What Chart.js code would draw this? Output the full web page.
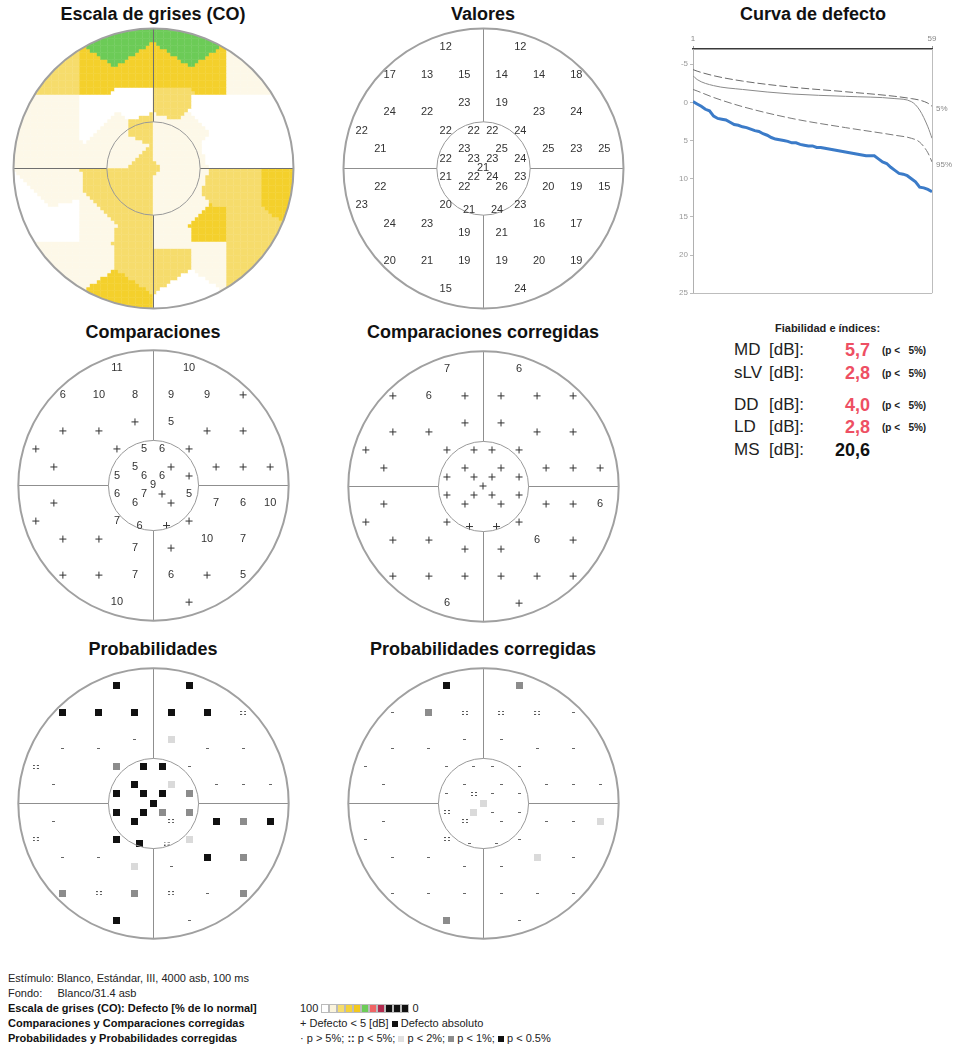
<!DOCTYPE html>
<html>
<head>
<meta charset="utf-8">
<title>Perimetría - Octopus G</title>
<script src="https://cdn.jsdelivr.net/npm/chart.js@4.4.1/dist/chart.umd.min.js"></script>
<style>
  body { margin: 0; background: #fff; font-family: "Liberation Sans", Arial, sans-serif; color: #1a1a1a; }
  #page { position: relative; width: 954px; height: 1047px; overflow: hidden; background: #fff; }
  #page canvas { position: absolute; }
  .ttl { position: absolute; transform: translateX(-50%); font-size: 18px; font-weight: bold; white-space: nowrap; line-height: 20px; color: #111; }
  .idx { position: absolute; white-space: nowrap; line-height: 20px; font-size: 17px; color: #222; }
  .val { font-size: 18px; font-weight: bold; text-align: right; }
  .pp { font-size: 10px; font-weight: bold; color: #222; }
  .foot { position: absolute; font-size: 11px; line-height: 13px; white-space: nowrap; color: #222; }
  .b { font-weight: bold; color: #111; }
  .sw { display: inline-block; width: 6px; height: 7px; border: 1px solid #bbb; margin-right: 0px; vertical-align: -1px; }
  .sq { display: inline-block; width: 6px; height: 6px; vertical-align: 0px; }
</style>
</head>
<body>
<div id="page">
  <div class="ttl" style="left:153px;top:4px">Escala de grises (CO)</div>
  <div class="ttl" style="left:483px;top:4px">Valores</div>
  <div class="ttl" style="left:813px;top:4px">Curva de defecto</div>
  <div class="ttl" style="left:153px;top:322px">Comparaciones</div>
  <div class="ttl" style="left:483px;top:322px">Comparaciones corregidas</div>
  <div class="ttl" style="left:153px;top:639px">Probabilidades</div>
  <div class="ttl" style="left:483px;top:639px">Probabilidades corregidas</div>

  <canvas id="mapa" width="290" height="290" style="left:8px;top:23px"></canvas>
  <canvas id="valores" width="290" height="290" style="left:338px;top:23px"></canvas>
  <canvas id="curva" width="289" height="270" style="left:665px;top:30px"></canvas>
  <canvas id="comp" width="290" height="290" style="left:8px;top:340px"></canvas>
  <canvas id="compC" width="290" height="290" style="left:338px;top:341px"></canvas>
  <canvas id="prob" width="290" height="290" style="left:8px;top:658px"></canvas>
  <canvas id="probC" width="290" height="290" style="left:338px;top:658px"></canvas>

  <div class="idx" style="left:775px;top:320px;font-size:11px;font-weight:bold;line-height:16px">Fiabilidad e índices:</div>
  <div id="indices"></div>

  <div class="foot" style="left:8px;top:972px">Estímulo: Blanco, Estándar, III, 4000 asb, 100 ms</div>
  <div class="foot" style="left:8px;top:987px">Fondo:&nbsp;&nbsp;&nbsp;&nbsp;&nbsp;Blanco/31.4 asb</div>
  <div class="foot b" style="left:8px;top:1002px">Escala de grises (CO): Defecto [% de lo normal]</div>
  <div class="foot b" style="left:8px;top:1017px">Comparaciones y Comparaciones corregidas</div>
  <div class="foot b" style="left:8px;top:1032px">Probabilidades y Probabilidades corregidas</div>
  <div class="foot" id="escala" style="left:300px;top:1002px"></div>
  <div class="foot" style="left:300px;top:1017px">+ Defecto &lt; 5 [dB] <span class="sq" style="background:#111"></span> Defecto absoluto</div>
  <div class="foot" style="left:300px;top:1032px">· p &gt; 5%; <b>::</b> p &lt; 5%; <span class="sq" style="background:#e0e0e0"></span> p &lt; 2%; <span class="sq" style="background:#8c8c8c"></span> p &lt; 1%; <span class="sq" style="background:#111"></span> p &lt; 0.5%</div>
</div>

<script>
// posiciones de los puntos del programa G (grados)
var ptX = [-8, 8,
  -20, -12, -4, 4, 12, 20,
  -4, 4,
  -20, -12, 12, 20,
  -26, -8, -2, 2, 8,
  -22, -4, 4, 14, 20, 26,
  -8, -2, 2, 8,
  0,
  -8, -2, 2, 8,
  -22, -4, 4, 14, 20, 26,
  -26, -8, 8,
  -3, 3,
  -20, -12, 12, 20,
  -4, 4,
  -20, -12, -4, 4, 12, 20,
  -8, 8];
var ptY = [26, 26,
  20, 20, 20, 20, 20, 20,
  14, 14,
  12, 12, 12, 12,
  8, 8, 8, 8, 8,
  4, 4, 4, 4, 4, 4,
  2, 2, 2, 2,
  0,
  -2, -2, -2, -2,
  -4, -4, -4, -4, -4, -4,
  -8, -8, -8,
  -9, -9,
  -12, -12, -12, -12,
  -14, -14,
  -20, -20, -20, -20, -20, -20,
  -26, -26];

var valores = [12, 12,
  17, 13, 15, 14, 14, 18,
  23, 19,
  24, 22, 23, 24,
  22, 22, 22, 22, 24,
  21, 23, 25, 25, 23, 25,
  22, 23, 23, 24,
  21,
  21, 22, 24, 23,
  22, 22, 26, 20, 19, 15,
  23, 20, 23,
  21, 24,
  24, 23, 16, 17,
  19, 21,
  20, 21, 19, 19, 20, 19,
  15, 24];

// null = "+" (defecto < 5 dB)
var comparaciones = [11, 10,
  6, 10, 8, 9, 9, null,
  null, 5,
  null, null, null, null,
  null, null, 5, 6, null,
  null, 5, null, null, null, null,
  5, 6, 6, null,
  9,
  6, 7, null, 5,
  null, 6, null, 7, 6, 10,
  null, 7, null,
  6, null,
  null, null, 10, 7,
  7, null,
  null, null, 7, 6, null, 5,
  10, null];

var compCorregidas = [7, 6,
  null, 6, null, null, null, null,
  null, null,
  null, null, null, null,
  null, null, null, null, null,
  null, null, null, null, null, null,
  null, null, null, null,
  null,
  null, null, null, null,
  null, null, null, null, null, 6,
  null, null, null,
  null, null,
  null, null, 6, null,
  null, null,
  null, null, null, null, null, null,
  6, null];

// 0: p>5%  1: p<5%  2: p<2%  3: p<1%  4: p<0.5%
var probabilidades = [4, 4,
  4, 4, 4, 4, 4, 1,
  0, 2,
  0, 0, 0, 0,
  1, 3, 4, 4, 0,
  0, 4, 2, 0, 0, 0,
  4, 4, 4, 3,
  4,
  4, 4, 3, 3,
  0, 4, 1, 4, 3, 4,
  1, 4, 2,
  4, 1,
  0, 0, 4, 3,
  2, 0,
  3, 1, 3, 1, 0, 3,
  4, 0];

var probCorregidas = [4, 3,
  0, 3, 1, 1, 1, 0,
  0, 0,
  0, 0, 0, 0,
  0, 0, 0, 0, 0,
  0, 0, 0, 0, 0, 0,
  0, 1, 0, 0,
  2,
  1, 2, 0, 0,
  0, 1, 0, 0, 0, 2,
  0, 1, 0,
  0, 0,
  0, 0, 2, 0,
  0, 0,
  0, 0, 0, 0, 0, 0,
  3, 0];

var escalaGris = [4, 4,
  2, 3, 3, 3, 3, 1,
  0, 2,
  1, 0, 0, 0,
  1, 1, 2, 1, 1,
  1, 1, 1, 0, 0, 0,
  1, 2, 1, 1,
  2,
  2, 2, 1, 1,
  1, 2, 1, 2, 2, 3,
  0, 2, 1,
  2, 1,
  0, 1, 3, 2,
  2, 1,
  1, 1, 2, 2, 1, 2,
  3, 0];

// curva de defecto (Bebie), rango 1..59
var curvaDefecto = [-0.1, 0.2, 0.5, 0.9, 1.1, 1.8, 2.1, 2.2, 2.3, 2.6,
  2.9, 3.0, 3.2, 3.3, 3.5, 3.7, 3.8, 4.1, 4.3, 4.6,
  4.8, 4.9, 5.0, 5.1, 5.3, 5.3, 5.5, 5.6, 5.7, 5.7,
  5.9, 5.9, 6.0, 6.1, 6.2, 6.3, 6.4, 6.5, 6.6, 6.7,
  6.8, 6.9, 7.0, 7.0, 7.0, 7.4, 7.8, 8.0, 8.5, 8.9,
  9.3, 9.4, 9.6, 10.0, 10.4, 11.1, 11.2, 11.4, 11.7];
var refRango = [1, 2, 6, 13, 25, 38, 50, 54, 56, 58, 59];
var ref5 = [-4.3, -4.1, -3.5, -2.8, -2.0, -1.4, -0.8, -0.5, -0.3, 0.1, 0.5];
var refMedia = [-3.5, -3.0, -2.2, -1.7, -1.1, -0.8, -0.5, -0.1, 1.0, 3.2, 4.7];
var ref95 = [-1.7, -1.5, -0.65, 0.55, 2.1, 3.3, 4.3, 4.7, 5.2, 6.6, 7.8];
var rangoTicks = [1, 59];
var defectoTicks = [-5, 0, 5, 10, 15, 20, 25];

var indNombres = ['MD', 'sLV', 'DD', 'LD', 'MS'];
var indValores = ['5,7', '2,8', '4,0', '2,8', '20,6'];
var indP = ['5%', '5%', '5%', '5%', null];

var greyPalette = ['#ffffff', '#fdf8e8', '#f6dc6c', '#f4d02c', '#6ccb57'];
var escalaColores = ['#ffffff', '#fbf4dc', '#f6dd6c', '#f4d23a', '#f2c81e', '#6ccc58', '#ef6464', '#b22a4e', '#111111', '#111111', '#111111'];

var FIELD = 31.07;   // 30 grados = 140 px en un lienzo de 290
var OUTER = 30, INNER = 10;
var CELL = 0.75;     // lado de celda del mapa, en grados

Chart.defaults.font.family = '"Liberation Sans", Arial, sans-serif';
Chart.defaults.animation = false;
Chart.defaults.events = [];

// ---------- textos de índices y escala ----------
var rowY = [350, 373, 405, 427, 450];
var html = '';
indNombres.forEach(function(n, i) {
  var y = rowY[i] - 10;
  html += '<div class="idx" style="left:734px;top:' + y + 'px">' + n + '</div>';
  html += '<div class="idx" style="left:769px;top:' + y + 'px">[dB]:</div>';
  html += '<div class="idx val" style="right:84px;top:' + y + 'px;color:' + (indP[i] ? '#ee4f63' : '#111') + '">' + indValores[i] + '</div>';
  if (indP[i]) html += '<div class="idx pp" style="left:882px;top:' + (y + 1) + 'px">(p &lt;&nbsp;&nbsp; ' + indP[i] + ')</div>';
});
document.getElementById('indices').innerHTML = html;

var esc = '100 ';
escalaColores.forEach(function(c) { esc += '<span class="sw" style="background:' + c + '"></span>'; });
esc += ' 0';
document.getElementById('escala').innerHTML = esc;

// ---------- plugins ----------
function geom(chart) {
  var sx = chart.scales.x, sy = chart.scales.y;
  var cx = Math.round(sx.getPixelForValue(0)) + 0.5, cy = Math.round(sy.getPixelForValue(0)) + 0.5;
  return { cx: cx, cy: cy,
    rOut: sx.getPixelForValue(OUTER) - sx.getPixelForValue(0),
    rIn: sx.getPixelForValue(INNER) - sx.getPixelForValue(0) };
}

var fieldFrame = {
  id: 'fieldFrame',
  beforeDatasetsDraw: function(chart, args, opts) {
    if (!opts.clip) return;
    var g = geom(chart), ctx = chart.ctx;
    ctx.save();
    ctx.beginPath();
    ctx.arc(g.cx, g.cy, g.rOut, 0, Math.PI * 2);
    ctx.clip();
  },
  afterDatasetsDraw: function(chart, args, opts) {
    var g = geom(chart), ctx = chart.ctx;
    if (opts.clip) ctx.restore();
    ctx.save();
    ctx.strokeStyle = opts.clip ? '#6f6f6f' : '#8f8f8f';
    ctx.lineWidth = 1;
    ctx.beginPath();
    ctx.moveTo(g.cx, g.cy - g.rOut); ctx.lineTo(g.cx, g.cy - g.rIn);
    ctx.moveTo(g.cx, g.cy + g.rIn); ctx.lineTo(g.cx, g.cy + g.rOut);
    ctx.moveTo(g.cx - g.rOut, g.cy); ctx.lineTo(g.cx - g.rIn, g.cy);
    ctx.moveTo(g.cx + g.rIn, g.cy); ctx.lineTo(g.cx + g.rOut, g.cy);
    ctx.stroke();
    ctx.strokeStyle = '#999';
    ctx.beginPath(); ctx.arc(g.cx, g.cy, g.rIn, 0, Math.PI * 2); ctx.stroke();
    ctx.lineWidth = 2;
    ctx.strokeStyle = '#a0a0a0';
    ctx.beginPath(); ctx.arc(g.cx, g.cy, g.rOut, 0, Math.PI * 2); ctx.stroke();
    ctx.restore();
  }
};

var fieldLabels = {
  id: 'fieldLabels',
  afterDatasetsDraw: function(chart) {
    var ctx = chart.ctx;
    ctx.save();
    ctx.font = '11px "Liberation Sans", Arial, sans-serif';
    ctx.fillStyle = '#333';
    ctx.textAlign = 'center';
    ctx.textBaseline = 'middle';
    chart.data.datasets.forEach(function(ds, i) {
      if (!ds.labels) return;
      chart.getDatasetMeta(i).data.forEach(function(el, j) {
        ctx.fillText(ds.labels[j], el.x, el.y);
      });
    });
    ctx.restore();
  }
};

function fieldChart(id, datasets, clip) {
  return new Chart(document.getElementById(id), {
    type: 'scatter',
    data: { datasets: datasets },
    options: {
      responsive: false,
      layout: { padding: 0 },
      scales: {
        x: { type: 'linear', min: -FIELD, max: FIELD, display: false },
        y: { type: 'linear', min: -FIELD, max: FIELD, display: false }
      },
      plugins: { legend: { display: false }, tooltip: { enabled: false }, fieldFrame: { clip: !!clip } }
    },
    plugins: [fieldFrame, fieldLabels]
  });
}

function pointsWhere(test) {
  var out = [];
  for (var i = 0; i < ptX.length; i++) if (test(i)) out.push({ x: ptX[i], y: ptY[i], i: i });
  return out;
}

// ---------- escala de grises: cada celda toma el nivel del punto más cercano ----------
var cells = [];
var nCell = Math.ceil(31.5 / CELL);
for (var gy = -nCell; gy < nCell; gy++) {
  for (var gx = -nCell; gx < nCell; gx++) {
    var x = (gx + 0.5) * CELL, y = (gy + 0.5) * CELL;
    if (x * x + y * y > 31.5 * 31.5) continue;
    var best = 0, bd = 1e9;
    for (var k = 0; k < ptX.length; k++) {
      var d = (ptX[k] - x) * (ptX[k] - x) + (ptY[k] - y) * (ptY[k] - y);
      if (d < bd) { bd = d; best = k; }
    }
    cells.push({ x: x, y: y, level: escalaGris[best] });
  }
}
fieldChart('mapa', [{
  data: cells,
  pointStyle: 'rect',
  borderWidth: 0,
  pointRadius: function(c) {
    var s = c.chart.scales.x;
    return (s.getPixelForValue(CELL) - s.getPixelForValue(0)) * 0.78;
  },
  backgroundColor: function(c) { return greyPalette[c.raw.level]; }
}], true);

// ---------- valores ----------
fieldChart('valores', [{
  data: pointsWhere(function() { return true; }),
  pointRadius: 0,
  labels: valores.map(String)
}]);

// ---------- comparaciones ----------
function compDatasets(vals) {
  var nums = pointsWhere(function(i) { return vals[i] !== null; });
  return [
    { data: nums, pointRadius: 0, labels: nums.map(function(p) { return String(vals[p.i]); }) },
    { data: pointsWhere(function(i) { return vals[i] === null; }), pointStyle: 'cross', pointRadius: 3.5, borderWidth: 1, borderColor: '#333' }
  ];
}
fieldChart('comp', compDatasets(comparaciones));
fieldChart('compC', compDatasets(compCorregidas));

// ---------- probabilidades ----------
function symbol(w, h, draw) {
  var c = document.createElement('canvas');
  c.width = w; c.height = h;
  draw(c.getContext('2d'));
  return c;
}
var probSymbols = [
  symbol(3, 1, function(g) { g.fillStyle = '#666'; g.fillRect(0, 0, 3, 1); }),
  symbol(6, 4, function(g) { g.fillStyle = '#555'; g.fillRect(0, 0, 2, 1); g.fillRect(4, 0, 2, 1); g.fillRect(0, 3, 2, 1); g.fillRect(4, 3, 2, 1); }),
  symbol(7, 7, function(g) { g.fillStyle = '#dadada'; g.fillRect(0, 0, 7, 7); }),
  symbol(7, 7, function(g) { g.fillStyle = '#8c8c8c'; g.fillRect(0, 0, 7, 7); }),
  symbol(7, 7, function(g) { g.fillStyle = '#111'; g.fillRect(0, 0, 7, 7); })
];
function probDataset(codes) {
  return [{
    data: pointsWhere(function() { return true; }),
    pointStyle: function(c) { return probSymbols[codes[c.dataIndex]]; },
    pointRadius: 4
  }];
}
fieldChart('prob', probDataset(probabilidades));
fieldChart('probC', probDataset(probCorregidas));

// ---------- curva de defecto ----------
var curveExtras = {
  id: 'curveExtras',
  afterDatasetsDraw: function(chart) {
    var a = chart.chartArea, ctx = chart.ctx;
    ctx.save();
    ctx.strokeStyle = '#bdbdbd';
    ctx.lineWidth = 1;
    ctx.beginPath();
    ctx.moveTo(a.left, Math.round(a.bottom) + 0.5); ctx.lineTo(a.right, Math.round(a.bottom) + 0.5);
    ctx.moveTo(Math.round(a.right) + 0.5, a.top); ctx.lineTo(Math.round(a.right) + 0.5, a.bottom);
    ctx.stroke();
    ctx.font = '8px "Liberation Sans", Arial, sans-serif';
    ctx.fillStyle = '#888';
    ctx.textBaseline = 'middle';
    chart.data.datasets.forEach(function(ds, i) {
      if (!ds.tag) return;
      var pts = chart.getDatasetMeta(i).data, last = pts[pts.length - 1];
      ctx.fillText(ds.tag, a.right + 4, last.y + 3);
    });
    ctx.restore();
  }
};

function refLine(vals, color, dash, tag) {
  return {
    data: refRango.map(function(r, i) { return { x: r, y: vals[i] }; }),
    showLine: true, borderColor: color, borderWidth: 1, borderDash: dash,
    pointRadius: 0, cubicInterpolationMode: 'monotone', tag: tag
  };
}

new Chart(document.getElementById('curva'), {
  type: 'scatter',
  data: {
    datasets: [
      refLine(ref5, '#6a6a6a', [8, 3], '5%'),
      refLine(refMedia, '#8a8a8a', [], null),
      refLine(ref95, '#7a7a7a', [8, 3], '95%'),
      {
        data: curvaDefecto.map(function(v, i) { return { x: i + 1, y: v }; }),
        showLine: true, borderColor: '#3b7bc8', borderWidth: 3, pointRadius: 0, tension: 0
      }
    ]
  },
  options: {
    responsive: false,
    layout: { padding: { left: 0, right: 22, top: 0, bottom: 3 } },
    plugins: { legend: { display: false }, tooltip: { enabled: false } },
    scales: {
      x: {
        type: 'linear', position: 'top', min: 1, max: 59,
        afterBuildTicks: function(s) { s.ticks = rangoTicks.map(function(v) { return { value: v }; }); },
        afterFit: function(s) { s.height = 19; },
        ticks: { font: { size: 8 }, color: '#888', maxRotation: 0, padding: 2 },
        grid: { drawOnChartArea: false, tickLength: 3, color: '#999' },
        border: { color: '#3a3a3a', width: 1.5 }
      },
      y: {
        type: 'linear', reverse: true, min: -7, max: 25,
        afterBuildTicks: function(s) { s.ticks = defectoTicks.map(function(v) { return { value: v }; }); },
        afterFit: function(s) { s.width = 28; },
        ticks: { font: { size: 8 }, color: '#999', padding: 2 },
        grid: { drawOnChartArea: false, tickLength: 3, color: '#bbb' },
        border: { color: '#b0b0b0', width: 1 }
      }
    }
  },
  plugins: [curveExtras]
});
</script>
</body>
</html>
